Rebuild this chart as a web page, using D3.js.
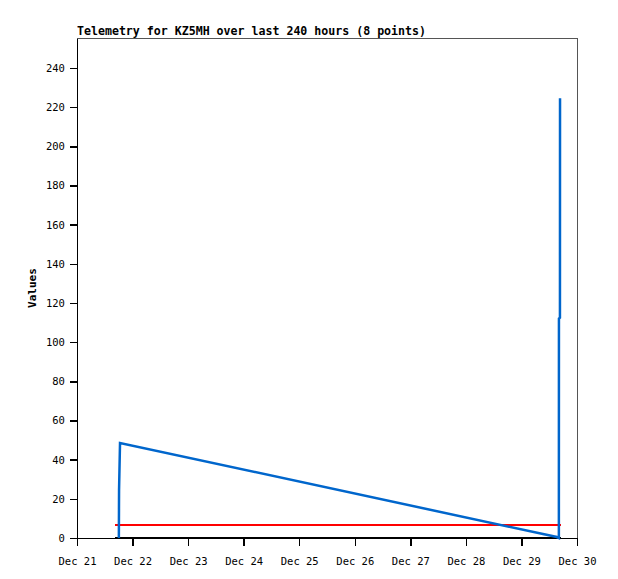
<!DOCTYPE html>
<html>
<head>
<meta charset="utf-8">
<script src="https://cdn.jsdelivr.net/npm/d3@7"></script>
<style>
  body { margin: 0; background: #fff; }
  text { font-family: "DejaVu Sans Mono", monospace; }
</style>
</head>
<body>
<script>
// telemetry values
var blueTimes = ["2023-12-21T18:05", "2023-12-21T18:10", "2023-12-21T18:35",
                 "2023-12-29T15:20", "2023-12-29T16:10", "2023-12-29T16:12",
                 "2023-12-29T16:38", "2023-12-29T16:40"];
var blueValues = [0, 24.5, 48.5, 0.5, 0, 112, 112.5, 224.5];

var refTimes = ["2023-12-21T16:25", "2023-12-29T17:05"];
var redValues = [6.6, 6.6];
var blackValues = [0, 0];

var yTicks = [0, 20, 40, 60, 80, 100, 120, 140, 160, 180, 200, 220, 240];
var xTickLabels = ["Dec 21", "Dec 22", "Dec 23", "Dec 24", "Dec 25",
                   "Dec 26", "Dec 27", "Dec 28", "Dec 29", "Dec 30"];

var parse = d3.timeParse("%Y-%m-%dT%H:%M");

var margin = {top: 38, right: 41, bottom: 41, left: 77},
    width = 618 - margin.left - margin.right,
    height = 579 - margin.top - margin.bottom;

var x = d3.scaleTime()
    .domain([new Date(2023, 11, 21), new Date(2023, 11, 30)])
    .range([0, width]);
var y = d3.scaleLinear().domain([0, 255.3]).range([height, 0]);

var svg = d3.select("body").append("svg")
    .attr("width", 618)
    .attr("height", 579);

svg.append("text")
    .attr("x", 77)
    .attr("y", 35)
    .attr("font-size", "11.6px")
    .attr("font-weight", "bold")
    .text("Telemetry for KZ5MH over last 240 hours (8 points)");

var g = svg.append("g")
    .attr("transform", "translate(" + margin.left + "," + margin.top + ")");

// frame
g.append("rect")
    .attr("x", 0.5).attr("y", 0.5)
    .attr("width", width).attr("height", height)
    .attr("fill", "none")
    .attr("stroke", "#555")
    .attr("stroke-width", 1)
    .attr("shape-rendering", "crispEdges");

var xTickDates = xTickLabels.map(function(d, i) { return new Date(2023, 11, 21 + i); });

g.append("g")
    .attr("class", "axis axis--x")
    .attr("transform", "translate(0," + height + ")")
    .call(d3.axisBottom(x)
        .tickValues(xTickDates)
        .tickFormat(function(d, i) { return xTickLabels[i]; })
        .tickSize(8).tickSizeOuter(0));

g.append("g")
    .attr("class", "axis axis--y")
    .call(d3.axisLeft(y).tickValues(yTicks).tickSize(7).tickSizeOuter(0));

g.selectAll(".axis path, .axis line")
    .attr("stroke", "#000")
    .attr("stroke-width", 1.5)
    .attr("shape-rendering", "crispEdges");
g.selectAll(".axis text")
    .attr("fill", "#000")
    .attr("font-size", "10.5px")
    .attr("font-family", "DejaVu Sans Mono, monospace");
g.select(".axis--x").selectAll("text").attr("dy", "1.5em");
g.select(".axis--y").selectAll("text").attr("dx", "-0.2em");

svg.append("text")
    .attr("transform", "translate(36," + (margin.top + height / 2) + ") rotate(-90)")
    .attr("text-anchor", "middle")
    .attr("font-size", "11px")
    .attr("font-weight", "bold")
    .text("Values");

var line = d3.line()
    .x(function(d) { return x(parse(d[0])); })
    .y(function(d) { return y(d[1]); });

g.append("path")
    .datum(d3.zip(refTimes, blackValues))
    .attr("fill", "none")
    .attr("stroke", "#000")
    .attr("stroke-width", 2)
    .attr("d", line);

g.append("path")
    .datum(d3.zip(refTimes, redValues))
    .attr("fill", "none")
    .attr("stroke", "#ff0000")
    .attr("stroke-width", 2)
    .attr("d", line);

g.append("path")
    .datum(d3.zip(blueTimes, blueValues))
    .attr("fill", "none")
    .attr("stroke", "#0066cc")
    .attr("stroke-width", 2.5)
    .attr("d", line);
</script>
</body>
</html>
